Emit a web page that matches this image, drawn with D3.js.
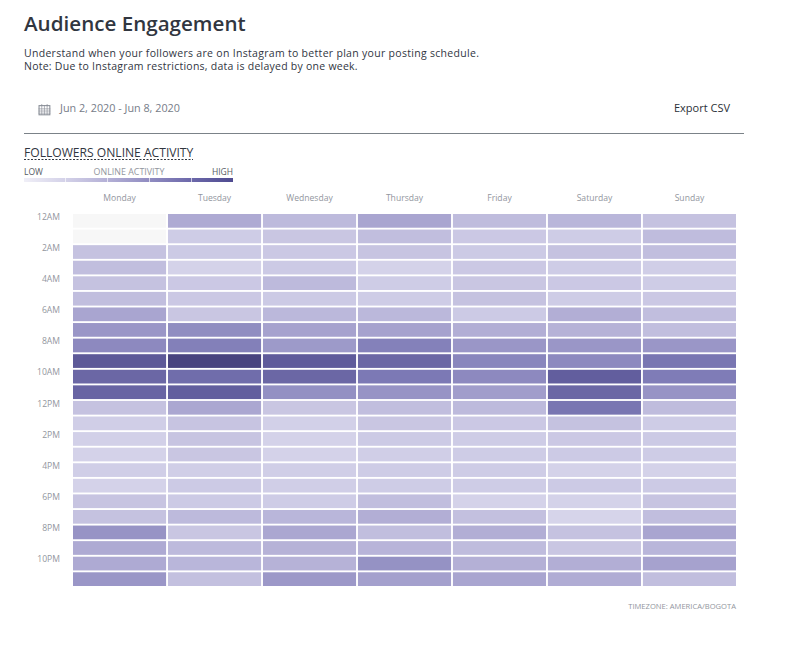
<!DOCTYPE html>
<html>
<head>
<meta charset="utf-8">
<script src="https://cdn.jsdelivr.net/npm/d3@7/dist/d3.min.js"></script>
<style>
	html, body { margin: 0; padding: 0; background: #fff; }
	svg { display: block; }
	text { font-family: 'Open Sans', sans-serif; }
	.axis text { font-size: 8.6px; fill: #92969e; }
	.axis path, .axis line { display: none; }
</style>
</head>
<body>
<svg class="chart" width="785" height="645"></svg>
<script>
const days = ['Monday', 'Tuesday', 'Wednesday', 'Thursday', 'Friday', 'Saturday', 'Sunday']
const hours = ['12AM', '1AM', '2AM', '3AM', '4AM', '5AM', '6AM', '7AM', '8AM', '9AM', '10AM', '11AM',
	'12PM', '1PM', '2PM', '3PM', '4PM', '5PM', '6PM', '7PM', '8PM', '9PM', '10PM', '11PM']
const hourTicks = ['12AM', '2AM', '4AM', '6AM', '8AM', '10AM', '12PM', '2PM', '4PM', '6PM', '8PM', '10PM']

// activity index, one value per hour, null = no data
const monday = [null, null, 18, 20, 18, 20, 33, 42, 50, 82, 72, 74, 18, 12, 11, 10, 12, 10, 17, 18, 44, 30, 30, 42]
const tuesday = [30, 13, 14, 10, 15, 15, 16, 48, 56, 100, 68, 78, 32, 17, 17, 16, 12, 14, 14, 22, 16, 22, 24, 19]
const wednesday = [22, 16, 15, 14, 22, 14, 23, 35, 40, 80, 72, 46, 16, 11, 10, 10, 12, 12, 13, 24, 32, 26, 26, 41]
const thursday = [33, 20, 17, 10, 13, 13, 23, 35, 55, 72, 60, 44, 20, 16, 14, 12, 13, 13, 20, 28, 20, 25, 45, 36]
const friday = [21, 15, 14, 15, 16, 18, 14, 28, 42, 52, 50, 38, 22, 15, 13, 13, 13, 13, 10, 19, 28, 21, 27, 33]
const saturday = [24, 13, 18, 13, 15, 13, 28, 26, 42, 50, 78, 72, 62, 18, 15, 14, 10, 14, 10, 9, 18, 16, 28, 29]
const sunday = [18, 21, 20, 12, 13, 15, 20, 20, 42, 62, 58, 44, 21, 13, 14, 13, 10, 14, 17, 20, 33, 24, 35, 20]
const series = [monday, tuesday, wednesday, thursday, friday, saturday, sunday]

const legendSteps = [0, 20, 40, 60, 80, 100]

const svg = d3.select('.chart')

// header text
const addText = (x, y, str, size, fill, weight = 400, spacing = 0, anchor = 'start') =>
	svg.append('text')
		.attr('x', x)
		.attr('y', y)
		.attr('font-size', size)
		.attr('font-weight', weight)
		.attr('letter-spacing', spacing)
		.attr('text-anchor', anchor)
		.attr('fill', fill)
		.text(str)

addText(24, 31, 'Audience Engagement', 20.6, '#31363f', 600)
addText(24, 57, 'Understand when your followers are on Instagram to better plan your posting schedule.', 10.5, '#31363f', 400, 0.3)
addText(24, 70, 'Note: Due to Instagram restrictions, data is delayed by one week.', 10.5, '#31363f', 400, 0.25)
addText(60, 112, 'Jun 2, 2020 - Jun 8, 2020', 10.8, '#767c88')
addText(730, 112, 'Export CSV', 11, '#2c3038', 400, 0, 'end')
addText(24, 157, 'FOLLOWERS ONLINE ACTIVITY', 12.1, '#31363f')
addText(24, 175, 'LOW', 8.5, '#555a63')
addText(129, 175, 'ONLINE ACTIVITY', 8.9, '#92969e', 400, 0, 'middle')
addText(233, 175, 'HIGH', 8.5, '#555a63', 400, 0, 'end')
addText(736, 609, 'TIMEZONE: AMERICA/BOGOTA', 7.6, '#92969e', 400, 0, 'end')

// calendar icon
const icon = svg.append('g')
	.attr('transform', 'translate(38.5, 104) scale(1.08)')
	.attr('fill', 'none')
	.attr('stroke', '#8a8f98')
icon.append('rect').attr('x', 0.5).attr('y', 1.5).attr('width', 10).attr('height', 8.5)
icon.append('path').attr('d', 'M0 4.5H11M0 6.5H11M0 8.5H11M3 1V10M5.5 1V10M8 1V10M3 0V2M8 0V2').attr('stroke-width', 0.6)

// divider and dashed title underline
svg.append('line')
	.attr('x1', 24).attr('x2', 744).attr('y1', 133.5).attr('y2', 133.5)
	.attr('stroke', '#7b8288')
svg.append('line')
	.attr('x1', 24).attr('x2', 193).attr('y1', 159.5).attr('y2', 159.5)
	.attr('stroke', '#31363f')
	.attr('stroke-dasharray', '2 1.5')

// scales
const x = d3.scaleBand().domain(days).range([73, 736]).paddingInner(0.02)
const y = d3.scaleBand().domain(hours).range([214, 586]).paddingInner(0.12)
const color = d3.scaleLinear()
	.domain([0, 10, 30, 60, 80, 100])
	.range(['#e4e3f1', '#d4d2e9', '#aeaad3', '#7c79b5', '#5f5b9b', '#48437f'])

// legend runs lighter than the cells, so it gets its own ramp
const legendColor = d3.scaleLinear()
	.domain([0, 20, 40, 60, 80, 100])
	.range(['#f0eff7', '#d3d1e8', '#b4b0d6', '#908cc1', '#6c68aa', '#4f4b90'])

const legendX = d3.scaleBand()
	.domain(d3.range(legendSteps.length - 1))
	.range([24, 233])
	.paddingInner(0.015)

const defs = svg.append('defs')
d3.range(legendSteps.length - 1).forEach(i => {
	const grad = defs.append('linearGradient').attr('id', `legend-${i}`)
	grad.append('stop').attr('offset', '0%').attr('stop-color', legendColor(legendSteps[i]))
	grad.append('stop').attr('offset', '100%').attr('stop-color', legendColor(legendSteps[i + 1]))
})

svg.append('g')
	.selectAll('rect')
	.data(d3.range(legendSteps.length - 1))
	.join('rect')
		.attr('x', d => legendX(d))
		.attr('y', 178)
		.attr('width', legendX.bandwidth())
		.attr('height', 4)
		.attr('fill', d => `url(#legend-${d})`)

// cells
const cells = days.flatMap((day, i) => hours.map((hour, j) => ({ day, hour, value: series[i][j] })))

svg.append('g')
	.selectAll('rect')
	.data(cells)
	.join('rect')
		.attr('x', d => x(d.day))
		.attr('y', d => y(d.hour))
		.attr('width', x.bandwidth())
		.attr('height', y.bandwidth())
		.attr('fill', d => d.value === null ? '#f7f7f7' : color(d.value))

// axes
svg.append('g')
	.attr('class', 'axis axis--x')
	.attr('transform', 'translate(0, 201)')
	.call(d3.axisTop(x).tickSize(0).tickPadding(0))

svg.append('g')
	.attr('class', 'axis axis--y')
	.attr('transform', 'translate(60, -4)')
	.call(d3.axisLeft(y).tickValues(hourTicks).tickSize(0).tickPadding(0))
</script>
</body>
</html>
